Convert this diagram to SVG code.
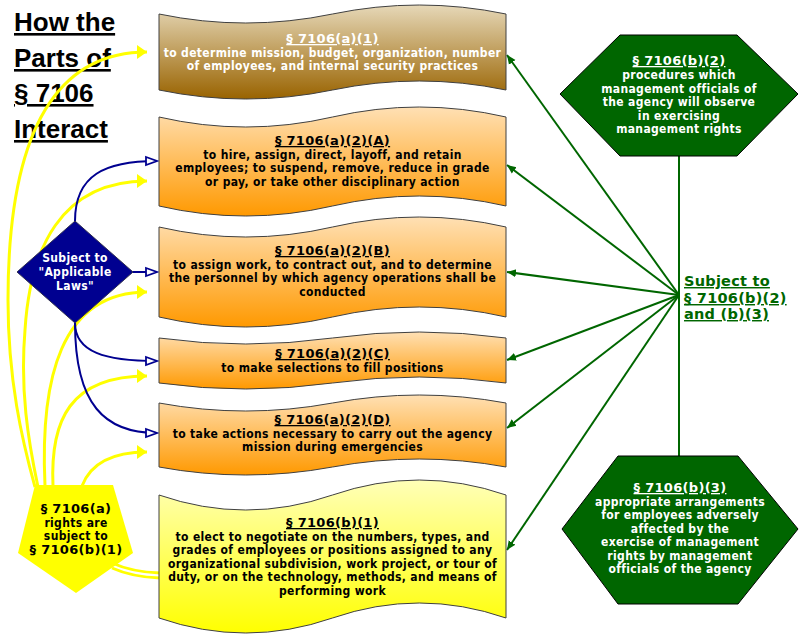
<svg xmlns="http://www.w3.org/2000/svg" width="800" height="639" viewBox="0 0 800 639">
<defs>
<style>
.t{font-family:"DejaVu Sans Condensed","DejaVu Sans",sans-serif;font-stretch:condensed;font-weight:bold;font-size:12px;letter-spacing:0.35px;text-anchor:middle}
.h{font-family:"DejaVu Sans",sans-serif;font-weight:bold;font-size:13px;letter-spacing:0.3px;text-anchor:middle}
.ttl{font-family:"Liberation Sans",Arial,sans-serif;font-weight:bold;font-size:26px;text-decoration:underline}
.g{font-family:"DejaVu Sans",sans-serif;font-weight:bold;font-size:14.5px;letter-spacing:0.25px;fill:#006600;text-decoration:underline}
.u{text-decoration:underline}
.w{fill:#ffffff}
.k{fill:#000000}
.box{stroke:#404040;stroke-width:1}
.blue{fill:none;stroke:#000090;stroke-width:2}
.yel{fill:none;stroke:#ffff00;stroke-width:3}
.grn{fill:none;stroke:#006600;stroke-width:2}
.hex{fill:#006600;stroke:#000000;stroke-width:1}
</style>
<linearGradient id="gBrown" x1="0" y1="0" x2="0" y2="1">
<stop offset="0" stop-color="#e6d8b8"/><stop offset="1" stop-color="#996300"/>
</linearGradient>
<linearGradient id="gOrange" x1="0" y1="0" x2="0" y2="1">
<stop offset="0" stop-color="#ffe0b4"/><stop offset="1" stop-color="#ff9900"/>
</linearGradient>
<linearGradient id="gYellow" x1="0" y1="0" x2="0" y2="1">
<stop offset="0" stop-color="#ffffb8"/><stop offset="1" stop-color="#ffff00"/>
</linearGradient>
<marker id="aBlue" markerUnits="userSpaceOnUse" markerWidth="14" markerHeight="12" refX="12" refY="5" orient="auto" viewBox="0 0 14 10">
<path d="M1,1 L12,5 L1,9 Z" fill="#ffffff" stroke="#000090" stroke-width="1.8"/>
</marker>
<marker id="aYel" markerUnits="userSpaceOnUse" markerWidth="12" markerHeight="14" refX="10" refY="7" orient="auto" viewBox="0 0 12 14">
<path d="M0,0 L10,7 L0,14 Z" fill="#ffff00"/>
</marker>
<marker id="aGrn" markerUnits="userSpaceOnUse" markerWidth="10" markerHeight="10" refX="9" refY="4" orient="auto" viewBox="0 0 10 8">
<path d="M0,0 L9,4 L0,8 Z" fill="#006600"/>
</marker>
</defs>
<rect width="800" height="639" fill="#ffffff"/>

<g id="title">
<text class="ttl" x="14" y="31">How the</text>
<text class="ttl" x="14" y="67">Parts of</text>
<text class="ttl" x="14" y="102">§ 7106</text>
<text class="ttl" x="14" y="138">Interact</text>
</g>

<g id="connectors">
<path class="yel" d="M35,487 C22,440 8,380 8,300 Q8,52 147,52" marker-end="url(#aYel)"/>
<path class="yel" d="M38,487 C28,440 20,390 25,330 C30,250 60,181 147,181" marker-end="url(#aYel)"/>
<path class="yel" d="M45,486 C40,380 60,292 147,292" marker-end="url(#aYel)"/>
<path class="yel" d="M53,486 C50,420 70,376 147,376" marker-end="url(#aYel)"/>
<path class="yel" d="M82,486 C90,465 110,452 147,452" marker-end="url(#aYel)"/>
<path class="yel" d="M112,563 Q132,572 160,573"/>
<path class="yel" d="M112,568 Q132,577 160,578"/>
<path class="blue" d="M75,221 C75,175 105,161 157,161" marker-end="url(#aBlue)"/>
<path class="blue" d="M133,272 L157,272" marker-end="url(#aBlue)"/>
<path class="blue" d="M75,323 C75,352 105,361 157,361" marker-end="url(#aBlue)"/>
<path class="blue" d="M75,323 C75,405 105,433 157,433" marker-end="url(#aBlue)"/>
<path class="grn" d="M679,156 L679,456"/>
<path class="grn" d="M679,295 L507,55" marker-end="url(#aGrn)"/>
<path class="grn" d="M679,295 L507,165" marker-end="url(#aGrn)"/>
<path class="grn" d="M679,295 L507,272" marker-end="url(#aGrn)"/>
<path class="grn" d="M679,295 L507,360" marker-end="url(#aGrn)"/>
<path class="grn" d="M679,295 L507,428" marker-end="url(#aGrn)"/>
<path class="grn" d="M679,295 L507,550" marker-end="url(#aGrn)"/>
</g>

<g id="a1">
<path class="box" fill="url(#gBrown)" d="M159,14 Q245.75,32 332.5,14 Q419.25,-4 506,14 L506,90 Q419.25,72 332.5,90 Q245.75,108 159,90 Z"/>
<text class="h w u" x="332.5" y="43">§ 7106(a)(1)</text>
<text class="t w" x="332.5" y="56.5">to determine mission, budget, organization, number</text>
<text class="t w" x="332.5" y="70">of employees, and internal security practices</text>
</g>

<g id="a2A">
<path class="box" fill="url(#gOrange)" d="M159,117 Q245.75,137 332.5,117 Q419.25,97 506,117 L506,206 Q419.25,186 332.5,206 Q245.75,226 159,206 Z"/>
<text class="h k u" x="332.5" y="145">§ 7106(a)(2)(A)</text>
<text class="t k" x="332.5" y="158.5">to hire, assign, direct, layoff, and retain</text>
<text class="t k" x="332.5" y="172">employees; to suspend, remove, reduce in grade</text>
<text class="t k" x="332.5" y="185.5">or pay, or take other disciplinary action</text>
</g>

<g id="a2B">
<path class="box" fill="url(#gOrange)" d="M159,227 Q245.75,247 332.5,227 Q419.25,207 506,227 L506,317 Q419.25,297 332.5,317 Q245.75,337 159,317 Z"/>
<text class="h k u" x="332.5" y="255">§ 7106(a)(2)(B)</text>
<text class="t k" x="332.5" y="268.5">to assign work, to contract out, and to determine</text>
<text class="t k" x="332.5" y="282">the personnel by which agency operations shall be</text>
<text class="t k" x="332.5" y="295.5">conducted</text>
</g>

<g id="a2C">
<path class="box" fill="url(#gOrange)" d="M159,338 Q245.75,350 332.5,338 Q419.25,326 506,338 L506,383 Q419.25,371 332.5,383 Q245.75,395 159,383 Z"/>
<text class="h k u" x="332.5" y="358">§ 7106(a)(2)(C)</text>
<text class="t k" x="332.5" y="371.5">to make selections to fill positions</text>
</g>

<g id="a2D">
<path class="box" fill="url(#gOrange)" d="M159,403 Q245.75,419 332.5,403 Q419.25,387 506,403 L506,467 Q419.25,451 332.5,467 Q245.75,483 159,467 Z"/>
<text class="h k u" x="332.5" y="424">§ 7106(a)(2)(D)</text>
<text class="t k" x="332.5" y="437.5">to take actions necessary to carry out the agency</text>
<text class="t k" x="332.5" y="451">mission during emergencies</text>
</g>

<g id="b1">
<path class="box" fill="url(#gYellow)" d="M159,495 Q245.75,525 332.5,495 Q419.25,465 506,495 L506,618 Q419.25,588 332.5,618 Q245.75,648 159,618 Z"/>
<text class="h k u" x="332.5" y="527">§ 7106(b)(1)</text>
<text class="t k" x="332.5" y="540.5">to elect to negotiate on the numbers, types, and</text>
<text class="t k" x="332.5" y="554">grades of employees or positions assigned to any</text>
<text class="t k" x="332.5" y="567.5">organizational subdivision, work project, or tour of</text>
<text class="t k" x="332.5" y="581">duty, or on the technology, methods, and means of</text>
<text class="t k" x="332.5" y="594.5">performing work</text>
</g>

<g id="applicable">
<polygon points="75,221 133,272 75,323 17,272" fill="#000090" stroke="#303050" stroke-width="1"/>
<text class="t w" x="75" y="262">Subject to</text>
<text class="t w" x="75" y="276">"Applicable</text>
<text class="t w" x="75" y="290">Laws"</text>
</g>

<g id="subjectb1">
<polygon points="35,485 113,485 133,553 76,593 18,553" fill="#ffff00"/>
<text class="h k" x="76" y="513">§ 7106(a)</text>
<text class="t k" x="76" y="527">rights are</text>
<text class="t k" x="76" y="540">subject to</text>
<text class="h k" x="76" y="554">§ 7106(b)(1)</text>
</g>

<g id="b2">
<polygon class="hex" points="560,94 620,35 737,35 798,94 737,156 620,156"/>
<text class="h w u" x="679" y="65">§ 7106(b)(2)</text>
<text class="t w" x="679" y="79">procedures which</text>
<text class="t w" x="679" y="92.5">management officials of</text>
<text class="t w" x="679" y="106">the agency will observe</text>
<text class="t w" x="679" y="119.5">in exercising</text>
<text class="t w" x="679" y="133">management rights</text>
</g>

<g id="b3">
<polygon class="hex" points="562,529 618,456 738,456 798,529 738,604 618,604"/>
<text class="h w u" x="680" y="492">§ 7106(b)(3)</text>
<text class="t w" x="680" y="505.5">appropriate arrangements</text>
<text class="t w" x="680" y="519">for employees adversely</text>
<text class="t w" x="680" y="532.5">affected by the</text>
<text class="t w" x="680" y="546">exercise of management</text>
<text class="t w" x="680" y="559.5">rights by management</text>
<text class="t w" x="680" y="573">officials of the agency</text>
</g>

<g id="subjectb2b3">
<text class="g" x="684" y="286">Subject to</text>
<text class="g" x="684" y="303">§ 7106(b)(2)</text>
<text class="g" x="684" y="319">and (b)(3)</text>
</g>
</svg>
